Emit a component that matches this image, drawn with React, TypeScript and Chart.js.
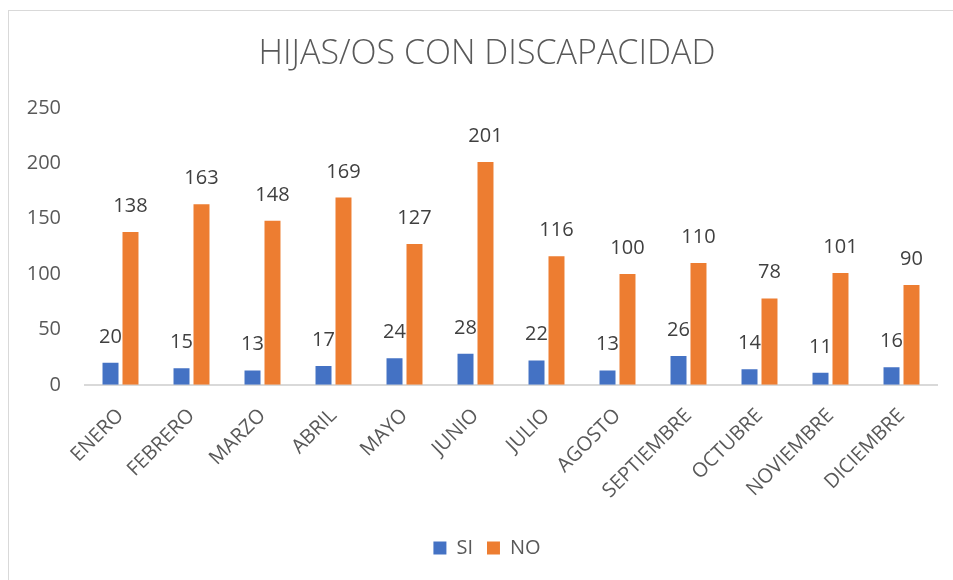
import React, { useEffect, useRef } from "react";
import { Chart, registerables } from "chart.js";

Chart.register(...registerables);

const categories = ["ENERO", "FEBRERO", "MARZO", "ABRIL", "MAYO", "JUNIO", "JULIO", "AGOSTO", "SEPTIEMBRE", "OCTUBRE", "NOVIEMBRE", "DICIEMBRE"];
const siValues = [20, 15, 13, 17, 24, 28, 22, 13, 26, 14, 11, 16];
const noValues = [138, 163, 148, 169, 127, 201, 116, 100, 110, 78, 101, 90];
const yTicks = [0, 50, 100, 150, 200, 250];

const FONT = "'Open Sans', sans-serif";

const dataLabels = {
  id: "dataLabels",
  afterDatasetsDraw(chart: any) {
    const ctx = chart.ctx;
    ctx.save();
    ctx.font = `20px ${FONT}`;
    ctx.fillStyle = "#404040";
    ctx.textAlign = "center";
    ctx.textBaseline = "alphabetic";
    chart.data.datasets.forEach((ds: any, di: number) => {
      const meta = chart.getDatasetMeta(di);
      meta.data.forEach((bar: any, i: number) => {
        ctx.fillText(String(ds.data[i]), bar.x, bar.y - 20);
      });
    });
    ctx.restore();
  },
};

export default function App() {
  const ref = useRef<HTMLCanvasElement | null>(null);
  useEffect(() => {
    document.body.style.margin = "0";
    const chart = new Chart(ref.current!, {
      type: "bar",
      data: {
        labels: categories,
        datasets: [
          { label: "SI", data: siValues, backgroundColor: "#4472C4", categoryPercentage: 0.563, barPercentage: 0.8 },
          { label: "NO", data: noValues, backgroundColor: "#ED7D31", categoryPercentage: 0.563, barPercentage: 0.8 },
        ],
      },
      options: {
        animation: false,
        responsive: false,
        layout: { padding: { left: 0, right: -21, top: 20, bottom: 12 } },
        plugins: {
          title: {
            display: true,
            text: "HIJAS/OS CON DISCAPACIDAD",
            color: "#595959",
            font: { family: FONT, size: 34, weight: "300" as any },
            padding: { top: 14, bottom: 33 },
          },
          legend: {
            position: "bottom",
            labels: {
              color: "#595959",
              font: { family: FONT, size: 20 },
              boxWidth: 13,
              boxHeight: 13,
              padding: 14,
            },
          },
          tooltip: { enabled: false },
        },
        scales: {
          x: {
            grid: { display: false },
            border: { display: true, color: "#D9D9D9", width: 2 },
            afterFit: (s: any) => { s.height = s.height + 10; },
            ticks: {
              color: "#595959",
              font: { family: FONT, size: 20 },
              minRotation: 45,
              maxRotation: 45,
              padding: 11,
            },
          },
          y: {
            min: 0,
            max: 250,
            grid: { display: false, drawTicks: false },
            border: { display: false },
            afterFit: (s: any) => { s.width = 85; },
            afterBuildTicks: (s: any) => { s.ticks = yTicks.map((v) => ({ value: v })); },
            ticks: {
              color: "#595959",
              font: { family: FONT, size: 20 },
              padding: 24,
            },
          },
          rightSpacer: {
            type: "linear",
            position: "right",
            min: 0,
            max: 250,
            grid: { display: false, drawTicks: false },
            border: { display: false },
            ticks: { display: false },
            afterFit: (s: any) => { s.width = 37; },
          },
        },
      } as any,
      plugins: [dataLabels],
    });
    return () => chart.destroy();
  }, []);
  return (
    <div style={{ position: "relative", width: 953, height: 580, overflow: "hidden", background: "#fff" }}>
      <div style={{ position: "absolute", left: 8, top: 10, width: 1000, height: 700, border: "1px solid #D9D9D9", boxSizing: "border-box" }} />
      <canvas ref={ref} width={953} height={580} style={{ position: "absolute", left: 0, top: 0 }} />
    </div>
  );
}
